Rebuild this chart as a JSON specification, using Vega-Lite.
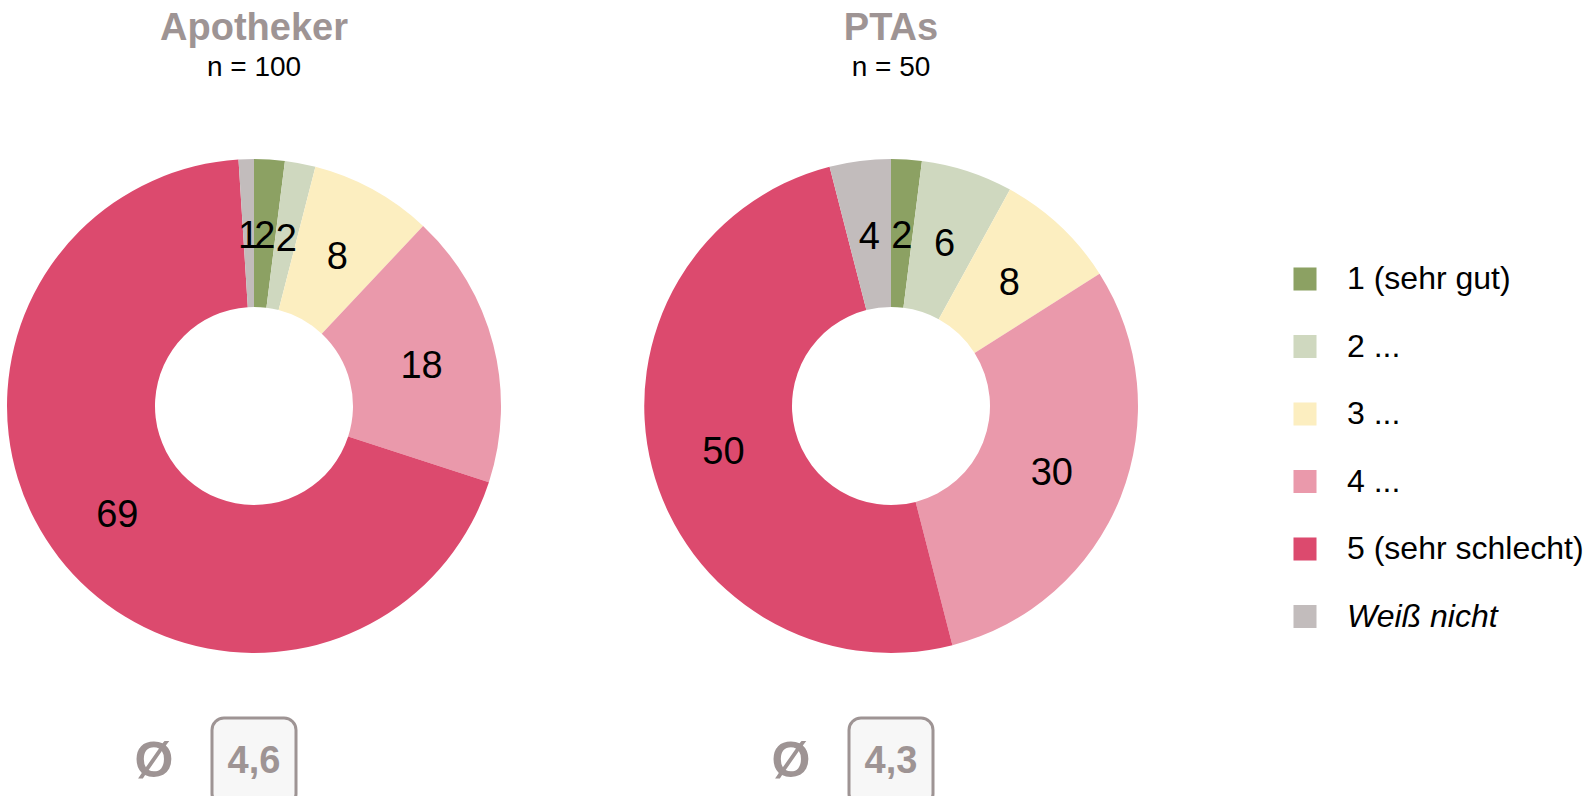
{
  "$schema": "https://vega.github.io/schema/vega-lite/v6.json",
  "padding": {"left": 6, "top": 10, "right": 0, "bottom": 0},
  "background": "white",
  "config": {
    "view": {"stroke": null},
    "font": "Liberation Sans",
    "text": {"font": "Liberation Sans"}
  },
  "datasets": {
    "apo": [
      {"kategorie": "1 (sehr gut)", "rang": 1, "prozent": 2},
      {"kategorie": "2 ...", "rang": 2, "prozent": 2},
      {"kategorie": "3 ...", "rang": 3, "prozent": 8},
      {"kategorie": "4 ...", "rang": 4, "prozent": 18},
      {"kategorie": "5 (sehr schlecht)", "rang": 5, "prozent": 69},
      {"kategorie": "Weiß nicht", "rang": 6, "prozent": 1}
    ],
    "pta": [
      {"kategorie": "1 (sehr gut)", "rang": 1, "prozent": 2},
      {"kategorie": "2 ...", "rang": 2, "prozent": 6},
      {"kategorie": "3 ...", "rang": 3, "prozent": 8},
      {"kategorie": "4 ...", "rang": 4, "prozent": 30},
      {"kategorie": "5 (sehr schlecht)", "rang": 5, "prozent": 50},
      {"kategorie": "Weiß nicht", "rang": 6, "prozent": 4}
    ],
    "avgApo": [
      {"teil": "Zeichen", "text": "Ø"},
      {"teil": "Wert", "text": "4,6"}
    ],
    "avgPta": [
      {"teil": "Zeichen", "text": "Ø"},
      {"teil": "Wert", "text": "4,3"}
    ]
  },
  "resolve": {"scale": {"color": "shared"}, "legend": {"color": "shared"}},
  "spacing": 1,
  "vconcat": [
    {
      "spacing": 141,
      "resolve": {"scale": {"color": "shared"}, "legend": {"color": "shared"}},
      "hconcat": [
        {
          "width": 496,
          "height": 618,
          "data": {"name": "apo"},
          "title": {"text": "Apotheker", "subtitle": "n = 100", "anchor": "middle", "font": "Liberation Sans", "fontSize": 38, "fontWeight": "bold", "color": "#9E9494", "subtitleFont": "Liberation Sans", "subtitleFontSize": 28, "subtitleColor": "#000000", "subtitlePadding": 6, "offset": 15},
          "encoding": {
            "theta": {"field": "prozent", "type": "quantitative", "stack": true},
            "order": {"field": "rang", "type": "ordinal"}
          },
          "layer": [
            {
              "mark": {"type": "arc", "innerRadius": 99, "outerRadius": 247},
              "encoding": {
                "color": {
                  "field": "kategorie", "type": "nominal",
                  "scale": {
                    "domain": ["1 (sehr gut)", "2 ...", "3 ...", "4 ...", "5 (sehr schlecht)", "Weiß nicht"],
                    "range": ["#8CA163", "#CFD8BF", "#FCEEC0", "#EA99AB", "#DC4A6E", "#C2BCBC"]
                  },
                  "legend": {
                    "title": null, "orient": "none", "legendX": 1283, "legendY": 166,
                    "padding": 0, "symbolType": "square", "symbolSize": 530, "symbolStrokeWidth": 0,
                    "labelFont": "Liberation Sans", "labelFontSize": 32, "labelColor": "#000000",
                    "labelOffset": 26, "rowPadding": 35.5, "labelLimit": 400,
                    "encode": {"labels": {"update": {"fontStyle": {"signal": "datum.value === 'Weiß nicht' ? 'italic' : 'normal'"}}}}
                  }
                }
              }
            },
            {
              "mark": {"type": "text", "radius": 173, "fontSize": 38, "color": "#000000", "dy": 4},
              "encoding": {"text": {"field": "prozent", "type": "quantitative"}}
            }
          ]
        },
        {
          "width": 496,
          "height": 618,
          "data": {"name": "pta"},
          "title": {"text": "PTAs", "subtitle": "n = 50", "anchor": "middle", "font": "Liberation Sans", "fontSize": 38, "fontWeight": "bold", "color": "#9E9494", "subtitleFont": "Liberation Sans", "subtitleFontSize": 28, "subtitleColor": "#000000", "subtitlePadding": 6, "offset": 15},
          "encoding": {
            "theta": {"field": "prozent", "type": "quantitative", "stack": true},
            "order": {"field": "rang", "type": "ordinal"}
          },
          "layer": [
            {
              "mark": {"type": "arc", "innerRadius": 99, "outerRadius": 247},
              "encoding": {
                "color": {
                  "field": "kategorie", "type": "nominal",
                  "scale": {
                    "domain": ["1 (sehr gut)", "2 ...", "3 ...", "4 ...", "5 (sehr schlecht)", "Weiß nicht"],
                    "range": ["#8CA163", "#CFD8BF", "#FCEEC0", "#EA99AB", "#DC4A6E", "#C2BCBC"]
                  }
                }
              }
            },
            {
              "mark": {"type": "text", "radius": 173, "fontSize": 38, "color": "#000000", "dy": 4},
              "encoding": {"text": {"field": "prozent", "type": "quantitative"}}
            }
          ]
        }
      ]
    },
    {
      "spacing": 141,
      "hconcat": [
        {
          "width": 496,
          "height": 88,
          "data": {"name": "avgApo"},
          "encoding": {
            "x": {"field": "teil", "type": "nominal", "axis": null,
                  "scale": {"type": "band", "domain": ["Zeichen", "Wert"], "range": [98, 298], "paddingInner": 0, "paddingOuter": 0}}
          },
          "layer": [
            {
              "transform": [{"filter": "datum.teil === 'Wert'"}],
              "mark": {"type": "rect", "width": 84, "cornerRadius": 12, "fill": "#F7F7F7", "stroke": "#9E9494", "strokeWidth": 3}
            },
            {
              "mark": {"type": "text", "fontWeight": "bold", "color": "#9E9494"},
              "encoding": {
                "text": {"field": "text", "type": "nominal"},
                "size": {"condition": {"test": "datum.teil === 'Zeichen'", "value": 50}, "value": 38}
              }
            }
          ]
        },
        {
          "width": 496,
          "height": 88,
          "data": {"name": "avgPta"},
          "encoding": {
            "x": {"field": "teil", "type": "nominal", "axis": null,
                  "scale": {"type": "band", "domain": ["Zeichen", "Wert"], "range": [98, 298], "paddingInner": 0, "paddingOuter": 0}}
          },
          "layer": [
            {
              "transform": [{"filter": "datum.teil === 'Wert'"}],
              "mark": {"type": "rect", "width": 84, "cornerRadius": 12, "fill": "#F7F7F7", "stroke": "#9E9494", "strokeWidth": 3}
            },
            {
              "mark": {"type": "text", "fontWeight": "bold", "color": "#9E9494"},
              "encoding": {
                "text": {"field": "text", "type": "nominal"},
                "size": {"condition": {"test": "datum.teil === 'Zeichen'", "value": 50}, "value": 38}
              }
            }
          ]
        }
      ]
    }
  ]
}
